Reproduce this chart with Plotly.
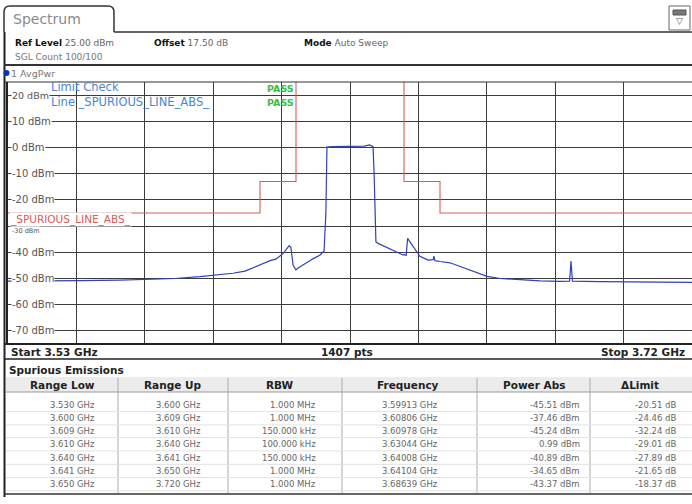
import plotly.graph_objects as go

W, H = 692, 504

# ---------------- data ----------------
freq_ghz = [3.5300, 3.5389, 3.5500, 3.5611, 3.5681, 3.5764, 3.5833, 3.5875, 3.5925, 3.5958,
            3.5986, 3.6006, 3.6028, 3.6044, 3.6064, 3.6081, 3.6086, 3.6092, 3.6100, 3.6106,
            3.6117, 3.6131, 3.6147, 3.6167, 3.6178, 3.6183, 3.6186, 3.6200, 3.6230, 3.6250,
            3.6270, 3.6290, 3.6304, 3.6314, 3.6317, 3.6322, 3.6328, 3.6347, 3.6375, 3.6397,
            3.6401, 3.6406, 3.6410, 3.6425, 3.6444, 3.6467, 3.6481, 3.6483, 3.6486, 3.6500,
            3.6528, 3.6556, 3.6597, 3.6631, 3.6667, 3.6722, 3.6778, 3.6833, 3.6860, 3.68639,
            3.6868, 3.6944, 3.7056, 3.7200]
level_dbm = [-51.0, -51.0, -50.8, -50.6, -50.3, -50.0, -49.3, -48.8, -48.0, -47.2,
             -45.6, -44.6, -43.2, -42.6, -40.5, -37.5, -38.2, -45.0, -46.7, -46.0,
             -45.0, -44.0, -42.5, -41.0, -39.5, -25.0, 0.2, 0.3, 0.4, 0.2,
             0.3, 0.5, 0.99, 0.3, -10.0, -36.0, -36.6, -37.8, -39.5, -41.0,
             -40.9, -41.2, -34.7, -37.5, -41.5, -43.0, -42.8, -41.5, -43.2, -43.5,
             -44.0, -45.4, -47.5, -49.2, -50.0, -50.5, -50.9, -51.1, -51.0, -43.37,
             -51.0, -51.2, -51.4, -51.5]

limit_freq = [3.53, 3.60, 3.61, 3.64, 3.65, 3.72]
limit_dbm = [-25, -13, 30, -13, -25, -25]

y_ticks = [20, 10, 0, -10, -20, -30, -40, -50, -60, -70]
y_tick_labels = ["20 dBm", "10 dBm", "0 dBm", "-10 dBm", "-20 dBm", "-30 dBm",
                 "-40 dBm", "-50 dBm", "-60 dBm", "-70 dBm"]

col_headers = ["Range Low", "Range Up", "RBW", "Frequency", "Power Abs", "ΔLimit"]
range_low = ["3.530 GHz", "3.600 GHz", "3.609 GHz", "3.610 GHz", "3.640 GHz", "3.641 GHz", "3.650 GHz"]
range_up = ["3.600 GHz", "3.609 GHz", "3.610 GHz", "3.640 GHz", "3.641 GHz", "3.650 GHz", "3.720 GHz"]
rbw = ["1.000 MHz", "1.000 MHz", "150.000 kHz", "100.000 kHz", "150.000 kHz", "1.000 MHz", "1.000 MHz"]
peak_freq = ["3.59913 GHz", "3.60806 GHz", "3.60978 GHz", "3.63044 GHz", "3.64008 GHz", "3.64104 GHz", "3.68639 GHz"]
power_abs = ["-45.51 dBm", "-37.46 dBm", "-45.24 dBm", "0.99 dBm", "-40.89 dBm", "-34.65 dBm", "-43.37 dBm"]
delta_limit = ["-20.51 dB", "-24.46 dB", "-32.24 dB", "-29.01 dB", "-27.89 dB", "-21.65 dB", "-18.37 dB"]

# ---------------- helpers ----------------
def px(x):
    return x / W

def py(y):
    return 1 - y / H

FONT = "DejaVu Sans"
PLOT_L, PLOT_R, PLOT_T, PLOT_B = 8, 692, 82, 344

fig = go.Figure()

fig.add_trace(go.Scatter(x=limit_freq, y=limit_dbm, mode="lines", line_shape="hv",
                         line=dict(color="#d0605a", width=1.1), hoverinfo="skip", showlegend=False))
fig.add_trace(go.Scatter(x=freq_ghz, y=level_dbm, mode="lines",
                         line=dict(color="#3042b4", width=1.2), hoverinfo="skip", showlegend=False))

shapes = []
ann = []

def line(x0, y0, x1, y1, color="#333", width=1):
    shapes.append(dict(type="line", xref="paper", yref="paper", x0=px(x0), y0=py(y0),
                       x1=px(x1), y1=py(y1), line=dict(color=color, width=width), layer="above"))

def text(x, y, s, size=9, color="#444", xanchor="left", bg=None, bold=False, fam=FONT):
    if bold:
        s = "<b>" + s + "</b>"
    d = dict(x=px(x), y=py(y), xref="paper", yref="paper", text=s, showarrow=False,
             xanchor=xanchor, yanchor="middle", font=dict(family=fam, size=size, color=color))
    if bg:
        d["bgcolor"] = bg
        d["borderpad"] = 0
    ann.append(d)

# tab
tab_path = ("M {a},{b} L {a},{c} Q {a},{d} {e},{d} L {f},{d} Q {g},{d} {g},{c} L {g},{b}").format(
    a=px(4), b=py(32), c=py(12), d=py(6), e=px(10), f=px(108), g=px(114))
shapes.append(dict(type="path", xref="paper", yref="paper", path=tab_path,
                   line=dict(color="#333", width=1.5)))
text(11, 19, "Spectrum", size=14, color="#8a8a8a")
line(114, 32, 692, 32, "#333", 1.6)
# icon top right
shapes.append(dict(type="rect", xref="paper", yref="paper", x0=px(669), y0=py(6), x1=px(690), y1=py(30),
                   line=dict(color="#666", width=1), fillcolor="white"))
shapes.append(dict(type="rect", xref="paper", yref="paper", x0=px(673), y0=py(10), x1=px(686), y1=py(15),
                   line=dict(color="#555", width=1), fillcolor="#777"))
text(679.5, 21, "▽", size=9, color="#555", xanchor="center")

# frame left
line(4.5, 32, 4.5, 497, "#222", 2)

# header
text(13, 43, "<b>Ref Level</b> <span style='color:#666'>25.00 dBm</span>", size=9, color="#111")
text(152, 43, "<b>Offset</b> <span style='color:#666'>17.50 dB</span>", size=9, color="#111")
text(302, 43, "<b>Mode</b> <span style='color:#666'>Auto Sweep</span>", size=9, color="#111")
text(13, 57, "SGL Count 100/100", size=9, color="#777")
line(4, 65, 692, 65, "#333", 2)
# trace label
shapes.append(dict(type="circle", xref="paper", yref="paper", x0=px(3.5), y0=py(70), x1=px(9.5), y1=py(76),
                   line=dict(color="#1030c0", width=0), fillcolor="#1030c0"))
text(9, 73, "1 AvgPwr", size=9.5, color="#777")

# plot borders
line(4, PLOT_T, 692, PLOT_T, "#333", 1.2)
line(4, PLOT_B, 692, PLOT_B, "#222", 1.8)
line(4, 359, 692, 359, "#222", 1.5)
line(7, PLOT_T, 7, PLOT_B, "#222", 2)

# y labels
for v, s in zip(y_ticks, y_tick_labels):
    yy = v
    fs = 10
    if v == -30:
        yy = -32.0
        fs = 6.5
    if v == 20:
        fs = 9.5
    ann.append(dict(x=px(11), y=yy, xref="paper", yref="y", text=s, showarrow=False,
                    xanchor="left", yanchor="middle", bgcolor="white", borderpad=0,
                    font=dict(family=FONT, size=fs, color="#555")))

# limit line label
ann.append(dict(x=px(9), y=-27.4, xref="paper", yref="y", text="_SPURIOUS_LINE_ABS_", showarrow=False,
                xanchor="left", yanchor="middle", bgcolor="white", borderpad=0,
                font=dict(family=FONT, size=10.5, color="#d0605a")))
# limit check texts
text(49, 87, "Limit Check", size=11.5, color="#4a86d0")
text(49, 102.5, "Line _SPURIOUS_LINE_ABS_", size=11.5, color="#4a86d0")
text(280, 88, "PASS", size=9.5, color="#38c040", xanchor="center", bold=True)
text(280, 103, "PASS", size=9.5, color="#38c040", xanchor="center", bold=True)

# bottom bar
text(9, 351.5, "Start 3.53 GHz", size=10.5, color="#222", bold=True)
text(347, 351.5, "1407 pts", size=10.5, color="#222", xanchor="center", bold=True)
text(687, 351.5, "Stop 3.72 GHz", size=10.5, color="#222", xanchor="right", bold=True)

# table
text(7, 369.5, "Spurious Emissions", size=10.5, color="#222", bold=True)
shapes.append(dict(type="rect", xref="paper", yref="paper", x0=px(6), y0=py(377), x1=px(692), y1=py(392),
                   line=dict(width=0), fillcolor="#ececec", layer="below"))
line(6, 392, 692, 392, "#999", 1)
col_bounds = [6, 118, 228, 342, 477, 590, 692]
head_cx = [62, 172, 280, 408, 534, 640]
val_rx = [97, 203, 318, 440, 582, 678]
for i in range(1, 6):
    line(col_bounds[i], 378, col_bounds[i], 493, "#aaa", 1)
for h, cx in zip(col_headers, head_cx):
    text(cx, 385, h, size=10.5, color="#222", xanchor="center", bold=True)
row_y = [405, 418.3, 431, 444.3, 457.7, 471, 484.3]
for r in range(7):
    line(6, row_y[r] + 6.6, 692, row_y[r] + 6.6, "#e2e2e2", 1)
cols = [range_low, range_up, rbw, peak_freq, power_abs, delta_limit]
for c, vals in enumerate(cols):
    for r, v in enumerate(vals):
        text(val_rx[c], row_y[r], v, size=8.5, color="#666", xanchor="right")
line(4, 494, 692, 494, "#333", 1.5)

fig.update_layout(
    width=W, height=H, margin=dict(l=0, r=0, t=0, b=0),
    paper_bgcolor="white", plot_bgcolor="white", showlegend=False,
    shapes=shapes, annotations=ann,
    xaxis=dict(domain=[px(PLOT_L), px(PLOT_R)], range=[3.53, 3.72], tick0=3.53, dtick=0.019,
               showgrid=True, gridcolor="#3c3c3c", gridwidth=1.2, showticklabels=False,
               zeroline=False, showline=False, ticks=""),
    yaxis=dict(domain=[py(PLOT_B), py(PLOT_T)], range=[-75, 25], tick0=0, dtick=10,
               showgrid=True, gridcolor="#3c3c3c", gridwidth=1.2, showticklabels=False,
               zeroline=False, showline=False, ticks=""),
)

fig.write_html("out.html", config={"displayModeBar": False},
               post_script="document.body.style.margin='0';document.body.style.overflow='hidden';")
